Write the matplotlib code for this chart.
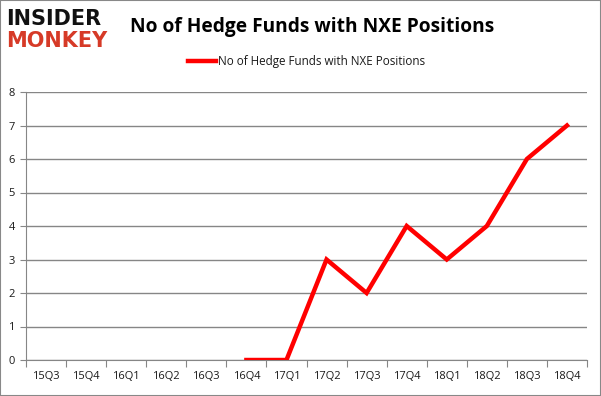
import numpy as np
import matplotlib.pyplot as plt
from matplotlib.patches import Rectangle

quarters = ["15Q3", "15Q4", "16Q1", "16Q2", "16Q3", "16Q4", "17Q1",
            "17Q2", "17Q3", "17Q4", "18Q1", "18Q2", "18Q3", "18Q4"]
funds = [np.nan, np.nan, np.nan, np.nan, np.nan, 0, 0, 3, 2, 4, 3, 4, 6, 7]
y_ticks = [0, 1, 2, 3, 4, 5, 6, 7, 8]
series_name = "No of Hedge Funds with NXE Positions"

plt.rcParams["font.family"] = ["Open Sans", "DejaVu Sans"]
grid_col = "#868686"
text_col = "#1a1a1a"

fig = plt.figure(figsize=(6.01, 3.96), dpi=100)
ax = fig.add_axes([26 / 601, 36 / 396, 561 / 601, 268 / 396])

x = np.arange(len(quarters))
ax.plot(x, funds, color="#ff0000", lw=3.2, solid_joinstyle="miter",
        label=series_name, zorder=3)

ax.set_xlim(-0.5, len(quarters) - 0.5)
ax.set_ylim(0, 8)
ax.set_yticks(y_ticks)
ax.set_yticklabels([str(v) for v in y_ticks], fontsize=8, color=text_col)
ax.yaxis.grid(True, color=grid_col, lw=1)
ax.set_axisbelow(True)

# boundaries get tick marks, centres get labels
ax.set_xticks(np.arange(len(quarters) + 1) - 0.5)
ax.set_xticklabels([])
ax.set_xticks(x, minor=True)
ax.set_xticklabels(quarters, minor=True, fontsize=8, color=text_col)
ax.tick_params(axis="x", which="major", length=5, color=grid_col, direction="out")
ax.tick_params(axis="x", which="minor", length=0, pad=8)
ax.tick_params(axis="y", length=4, color=grid_col, pad=4)

for side in ["top", "right"]:
    ax.spines[side].set_visible(False)
for side in ["left", "bottom"]:
    ax.spines[side].set_color(grid_col)

leg = ax.legend(loc="lower center", bbox_to_anchor=(0.5, 1.05), frameon=False,
                fontsize=8.4, handlelength=2.4, handletextpad=0.2)
for t in leg.get_texts():
    t.set_color(text_col)

fig.text(0.52, 0.933, series_name, ha="center", va="center",
         fontsize=13.8, fontweight="bold")
fig.text(0.01, 0.952, "INSIDER", ha="left", va="center", fontsize=15,
         fontweight="heavy", color="#111111", family="DejaVu Sans")
fig.text(0.01, 0.897, "MONKEY", ha="left", va="center", fontsize=15,
         fontweight="heavy", color="#d63a27", family="DejaVu Sans")

fig.patches.append(Rectangle((0, 0), 1, 1, transform=fig.transFigure,
                             fill=False, edgecolor="#888888", lw=1.5))

fig.savefig("out.png", dpi=100)
